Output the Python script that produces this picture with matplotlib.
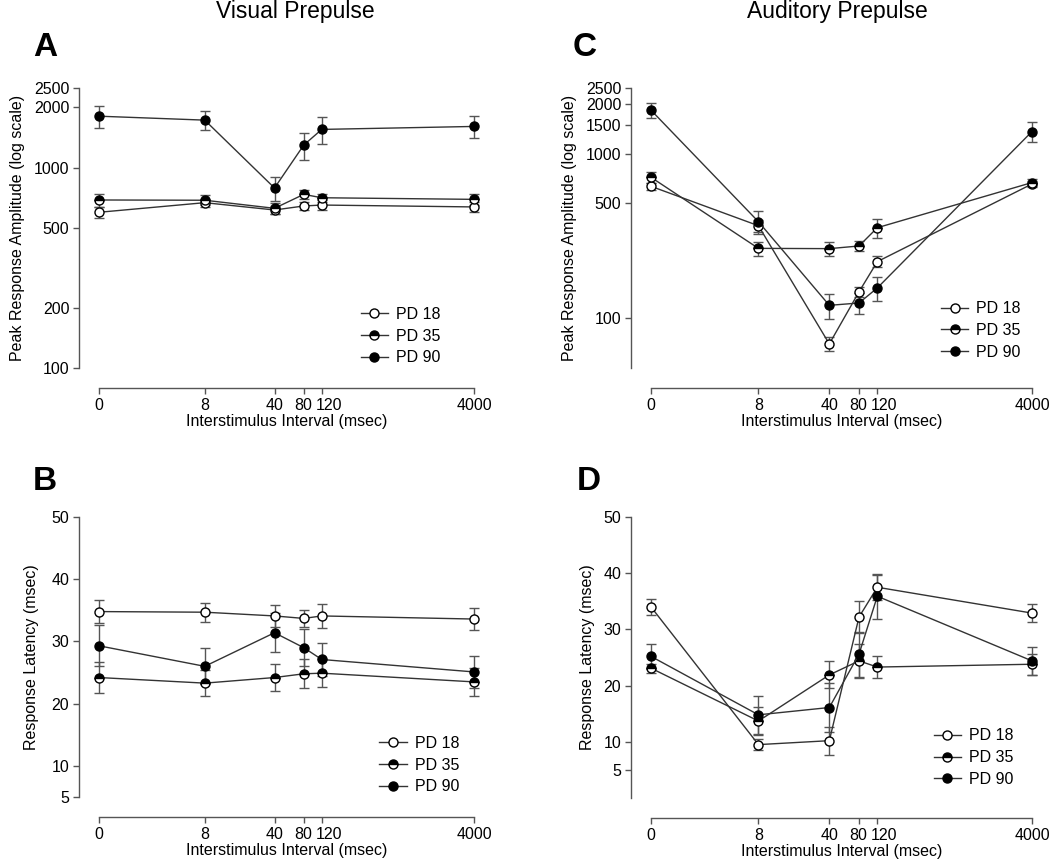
import matplotlib.pyplot as plt
import matplotlib.transforms as mtransforms
from matplotlib.lines import Line2D
import numpy as np

plt.rcParams['font.family'] = ['Liberation Sans', 'DejaVu Sans']

isi = [0, 8, 40, 80, 120, 4000]
isi_labels = ['0', '8', '40', '80', '120', '4000']
groups = ['PD 18', 'PD 35', 'PD 90']

# A - visual prepulse, peak amplitude
vis_amp_pd18 = [599, 669, 615, 644, 651, 637]
vis_amp_pd18_err = [40, 30, 30, 30, 35, 35]
vis_amp_pd35 = [690, 688, 627, 736, 708, 695]
vis_amp_pd35_err = [50, 40, 40, 40, 35, 40]
vis_amp_pd90 = [1808, 1728, 792, 1297, 1553, 1607]
vis_amp_pd90_err = [230, 190, 110, 200, 245, 200]

# C - auditory prepulse, peak amplitude
aud_amp_pd18 = [633, 365, 70, 145, 221, 654]
aud_amp_pd18_err = [30, 30, 7, 11, 17, 30]
aud_amp_pd35 = [718, 266, 265, 275, 355, 667]
aud_amp_pd35_err = [55, 26, 25, 20, 48, 35]
aud_amp_pd90 = [1834, 386, 120, 124, 153, 1361]
aud_amp_pd90_err = [200, 60, 21, 18, 26, 185]

# B - visual prepulse, latency
vis_lat_pd18 = [34.8, 34.7, 34.1, 33.7, 34.1, 33.6]
vis_lat_pd18_err = [1.8, 1.5, 1.7, 1.4, 1.9, 1.7]
vis_lat_pd35 = [24.2, 23.3, 24.2, 24.8, 24.9, 23.5]
vis_lat_pd35_err = [2.5, 2.1, 2.2, 2.3, 2.3, 2.3]
vis_lat_pd90 = [29.3, 26.0, 31.4, 29.0, 27.1, 25.1]
vis_lat_pd90_err = [3.3, 2.9, 3.1, 3.0, 2.6, 2.6]

# D - auditory prepulse, latency
aud_lat_pd18 = [34.0, 9.5, 10.2, 32.2, 37.5, 32.9]
aud_lat_pd18_err = [1.4, 1.0, 2.5, 2.8, 2.2, 1.6]
aud_lat_pd35 = [23.1, 13.7, 21.9, 24.4, 23.3, 23.8]
aud_lat_pd35_err = [0.8, 2.5, 2.4, 3.0, 1.9, 1.9]
aud_lat_pd90 = [25.2, 14.8, 16.1, 25.6, 35.9, 24.4]
aud_lat_pd90_err = [2.2, 3.4, 4.4, 4.0, 4.0, 2.5]

# the ISI axis is drawn with uneven spacing, like the original figure
knot_pos = [0, 0.282, 0.468, 0.546, 0.594, 1.0]


def fwd(x):
    return np.interp(x, isi, knot_pos)


def inv(u):
    return np.interp(u, knot_pos, isi)


W, H = 1050, 866
fig = plt.figure(figsize=(W / 100, H / 100), dpi=100)


def make_ax(x0, y0, x1, y1):
    return fig.add_axes([x0 / W, 1 - y1 / H, (x1 - x0) / W, (y1 - y0) / H])


marker_styles = [
    dict(marker='o', markerfacecolor='white', markeredgecolor='black'),
    dict(marker='o', fillstyle='top', markerfacecolor='black',
         markerfacecoloralt='white', markeredgecolor='black'),
    dict(marker='o', markerfacecolor='black', markeredgecolor='black'),
]


def draw_panel(ax, series, errs, log, ylim, yticks, ylabel, ybounds, leg_anchor, ylpad):
    ax.set_xscale('function', functions=(fwd, inv))
    if log:
        ax.set_yscale('log')
    for vals, err, ms in zip(series, errs, marker_styles):
        ax.errorbar(isi, vals, yerr=err, color='#333333', lw=1.0,
                    ecolor='#555555', elinewidth=1.0, capsize=3.5, capthick=1.0,
                    markersize=6.5, markeredgewidth=1.0, clip_on=False, **ms)
    ax.set_xlim(0, 4000)
    ax.set_ylim(*ylim)
    ax.set_xticks(isi)
    ax.set_xticklabels(isi_labels)
    ax.set_yticks(yticks)
    ax.set_yticklabels([str(t) for t in yticks])
    ax.minorticks_off()
    ax.spines['top'].set_visible(False)
    ax.spines['right'].set_visible(False)
    for s in ['left', 'bottom']:
        ax.spines[s].set_position(('outward', 14.4))
        ax.spines[s].set_color('#555555')
        ax.spines[s].set_linewidth(1.0)
    ax.spines['bottom'].set_bounds(0, 4000)
    ax.spines['left'].set_bounds(*ybounds)
    ax.tick_params(colors='#555555', labelcolor='black', labelsize=11.5,
                   length=4, width=1.0, pad=3)
    ax.set_xlabel('Interstimulus Interval (msec)', fontsize=11.5, labelpad=1)
    ax.set_ylabel(ylabel, fontsize=11.5, labelpad=ylpad)
    handles = [Line2D([], [], color='#333333', lw=1.0, markersize=6.5,
                      markeredgewidth=1.0, **ms) for ms in marker_styles]
    ax.legend(handles, groups, loc='lower right', bbox_to_anchor=leg_anchor,
              frameon=False, fontsize=11.5, handlelength=1.7, handletextpad=0.5,
              labelspacing=0.42, borderpad=0.2)
    # the 120 label sits a little right of its tick in the original
    lbl = ax.get_xticklabels()[4]
    lbl.set_transform(lbl.get_transform() +
                      mtransforms.ScaledTranslation(7 / 100, 0, fig.dpi_scale_trans))
    lbl = ax.get_xticklabels()[3]
    lbl.set_transform(lbl.get_transform() +
                      mtransforms.ScaledTranslation(-1 / 100, 0, fig.dpi_scale_trans))


axA = make_ax(99, 88, 474, 368)
axC = make_ax(651, 88, 1032, 368)
axB = make_ax(99, 517, 474, 797)
axD = make_ax(651, 517, 1032, 798)

draw_panel(axA, [vis_amp_pd18, vis_amp_pd35, vis_amp_pd90],
           [vis_amp_pd18_err, vis_amp_pd35_err, vis_amp_pd90_err],
           True, (100, 2500), [100, 200, 500, 1000, 2000, 2500],
           'Peak Response Amplitude (log scale)', (100, 2500), (0.94, -0.03), 6)
draw_panel(axC, [aud_amp_pd18, aud_amp_pd35, aud_amp_pd90],
           [aud_amp_pd18_err, aud_amp_pd35_err, aud_amp_pd90_err],
           True, (50, 2500), [100, 500, 1000, 1500, 2000, 2500],
           'Peak Response Amplitude (log scale)', (50, 2500), (1.0, -0.01), 6)
draw_panel(axB, [vis_lat_pd18, vis_lat_pd35, vis_lat_pd90],
           [vis_lat_pd18_err, vis_lat_pd35_err, vis_lat_pd90_err],
           False, (5, 50), [5, 10, 20, 30, 40, 50],
           'Response Latency (msec)', (5, 50), (0.99, -0.03), 9)
draw_panel(axD, [aud_lat_pd18, aud_lat_pd35, aud_lat_pd90],
           [aud_lat_pd18_err, aud_lat_pd35_err, aud_lat_pd90_err],
           False, (0, 50), [5, 10, 20, 30, 40, 50],
           'Response Latency (msec)', (0, 50), (0.98, 0.0), 6)

fig.text(295 / W, 1 - 18 / H, 'Visual Prepulse', fontsize=16.5, ha='center', va='baseline')
fig.text(837 / W, 1 - 18 / H, 'Auditory Prepulse', fontsize=16.5, ha='center', va='baseline')
for lab, x, y in [('A', 33, 56), ('C', 573, 56), ('B', 33, 490), ('D', 577, 490)]:
    fig.text(x / W, 1 - y / H, lab, fontsize=24, fontweight='bold', ha='left', va='baseline')

fig.savefig('out.png', dpi=100)
